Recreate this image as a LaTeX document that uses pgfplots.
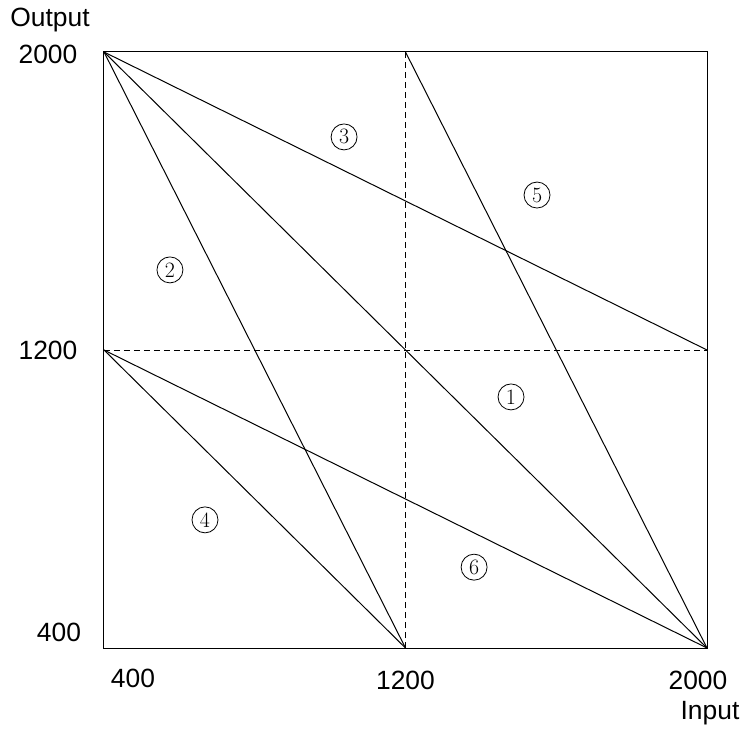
\documentclass[border=0pt]{standalone}
\usepackage{fontspec}
\setsansfont{Liberation Sans}
\usepackage{pgfplots}
\pgfplotsset{compat=1.18}
\begin{document}
\begin{tikzpicture}
\useasboundingbox (-104bp,-85bp) rectangle (639bp,648bp);
\begin{axis}[
  at={(0,0)}, anchor=south west,
  scale only axis, width=603bp, height=596bp,
  xmin=400, xmax=2000, ymin=400, ymax=2000,
  xtick=\empty, ytick=\empty,
  axis line style={line width=1bp},
  clip=false,
]
% dashed guides
\addplot[black, line width=0.9bp, dash pattern=on 6bp off 4bp, no marks] coordinates {(1200,400) (1200,2000)};
\addplot[black, line width=0.9bp, dash pattern=on 6bp off 4bp, no marks] coordinates {(400,1200) (2000,1200)};
% solid lines
\addplot[black, solid, line width=1bp, no marks] coordinates {(400,2000) (2000,400)};
\addplot[black, solid, line width=1bp, no marks] coordinates {(400,2000) (1200,400)};
\addplot[black, solid, line width=1bp, no marks] coordinates {(400,2000) (2000,1200)};
\addplot[black, solid, line width=1bp, no marks] coordinates {(400,1200) (1200,400)};
\addplot[black, solid, line width=1bp, no marks] coordinates {(400,1200) (2000,400)};
\addplot[black, solid, line width=1bp, no marks] coordinates {(1200,2000) (2000,400)};
% region labels
\tikzset{reg/.style={circle, draw, line width=0.8bp, inner sep=0pt, minimum size=26bp, font=\fontsize{22}{22}\selectfont}}
\node[reg] at (axis cs:1480,1074) {1};
\node[reg] at (axis cs:575,1415) {2};
\node[reg] at (axis cs:1037,1772) {3};
\node[reg] at (axis cs:668,744) {4};
\node[reg] at (axis cs:1549,1616) {5};
\node[reg] at (axis cs:1382,617) {6};
% tick labels
\tikzset{tl/.style={font=\sffamily\fontsize{26.5}{26.5}\selectfont, inner sep=0pt}}
\node[tl] at ([xshift=-56bp,yshift=-2bp]axis cs:400,2000) {2000};
\node[tl] at ([xshift=-56bp]axis cs:400,1200) {1200};
\node[tl] at ([xshift=-45bp,yshift=16bp]axis cs:400,400) {400};
\node[tl] at ([xshift=29bp,yshift=-30bp]axis cs:400,400) {400};
\node[tl] at ([yshift=-32bp]axis cs:1200,400) {1200};
\node[tl] at ([xshift=-9bp,yshift=-32bp]axis cs:2000,400) {2000};
\node[tl] at ([xshift=3bp,yshift=-65bp]axis cs:2000,400) {Input};
\node[tl] at ([xshift=-54bp,yshift=32bp]axis cs:400,2000) {Output};
\end{axis}
\end{tikzpicture}
\end{document}
